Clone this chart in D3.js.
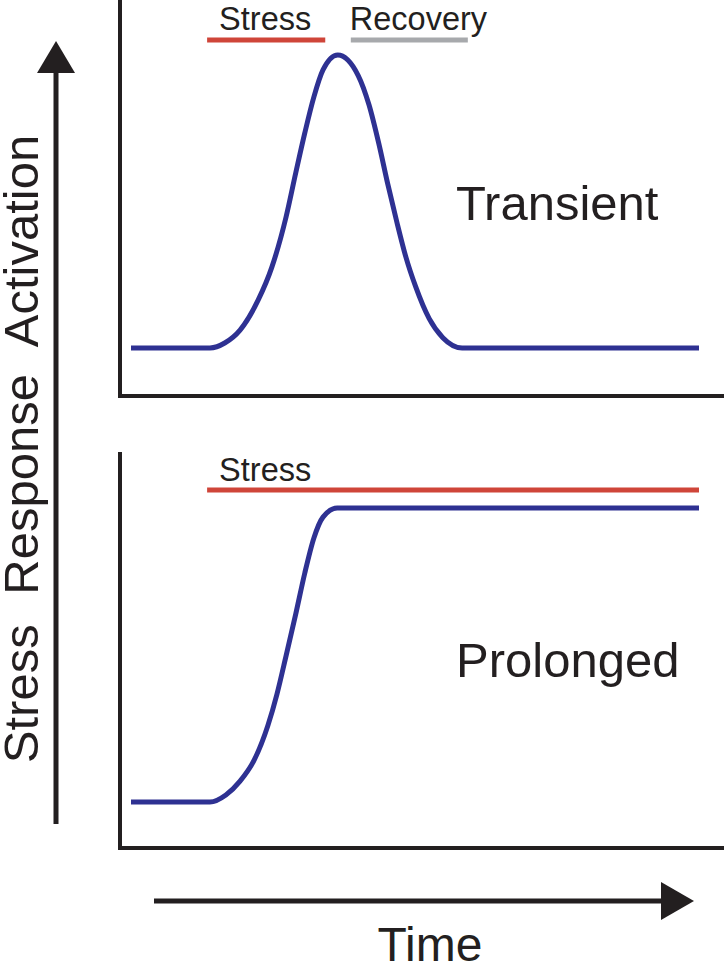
<!DOCTYPE html>
<html>
<head>
<meta charset="utf-8">
<script src="https://cdn.jsdelivr.net/npm/d3@7"></script>
<style>
  html, body { margin: 0; padding: 0; background: #fff; }
  svg { display: block; }
  text { font-family: "Liberation Sans", Arial, Helvetica, sans-serif; fill: #231f20; }
</style>
</head>
<body>
<svg id="chart" width="724" height="963"></svg>
<script>
// ---- data ----
const transientTime  = [0, 13.9, 16.5, 19.2, 22.4, 24.8, 27.3, 29.0, 30.6, 32.2, 33.8, 36.4, 40.0, 41.9, 43.6, 45.2, 46.8, 48.4, 50.1, 52.5, 54.9, 58.3, 100];
const transientLevel = [0, 0, 0.017, 0.061, 0.164, 0.276, 0.447, 0.597, 0.734, 0.857, 0.949, 1.0, 0.93, 0.83, 0.70, 0.56, 0.43, 0.31, 0.21, 0.10, 0.035, 0, 0];

const prolongedTime  = [0, 13.9, 16.7, 19.2, 21.7, 24.1, 25.7, 27.3, 29.0, 30.6, 32.2, 33.8, 36.3, 100];
const prolongedLevel = [0, 0, 0.024, 0.071, 0.143, 0.260, 0.367, 0.497, 0.639, 0.779, 0.898, 0.969, 1, 1];

const transientPhases = ["Stress", "Recovery"];
const transientPhaseStart = [13.4, 38.7];
const transientPhaseEnd   = [34.2, 59.3];
const prolongedPhases = ["Stress"];
const prolongedPhaseStart = [13.4];
const prolongedPhaseEnd   = [100];

const panelTitles = ["Transient", "Prolonged"];
const yAxisLabel = "Stress Response Activation";
const xAxisLabel = "Time";

// ---- styles ----
const ink = "#231f20";
const blue = "#2e3192";
const phaseColors = { "Stress": "#cf4539", "Recovery": "#a7a9ac" };

const svg = d3.select("#chart");

const x = d3.scaleLinear().domain([0, 100]).range([131, 699]);

const panels = [
  { time: transientTime, level: transientLevel, y: d3.scaleLinear().domain([0, 1]).range([348, 55]),
    axisTop: 0, axisBottom: 396, phases: transientPhases, ps: transientPhaseStart, pe: transientPhaseEnd,
    phaseY: 40, labelY: 30, title: panelTitles[0], titleY: 220 },
  { time: prolongedTime, level: prolongedLevel, y: d3.scaleLinear().domain([0, 1]).range([802, 508]),
    axisTop: 452, axisBottom: 848, phases: prolongedPhases, ps: prolongedPhaseStart, pe: prolongedPhaseEnd,
    phaseY: 490, labelY: 481, title: panelTitles[1], titleY: 677 }
];

panels.forEach(p => {
  const g = svg.append("g");
  // axes (L shape)
  g.append("path")
    .attr("d", `M120,${p.axisTop} L120,${p.axisBottom} L724,${p.axisBottom}`)
    .attr("fill", "none").attr("stroke", ink).attr("stroke-width", 4);

  // phase bars
  p.phases.forEach((name, i) => {
    g.append("line")
      .attr("x1", x(p.ps[i])).attr("x2", x(p.pe[i]))
      .attr("y1", p.phaseY).attr("y2", p.phaseY)
      .attr("stroke", phaseColors[name]).attr("stroke-width", 5);
    g.append("text")
      .attr("x", x(p.ps[i]) + (name === "Stress" ? 12 : -1))
      .attr("y", p.labelY)
      .attr("font-size", 32.5)
      .text(name);
  });

  // curve
  const pts = p.time.map((t, i) => [t, p.level[i]]);
  g.append("path")
    .datum(pts)
    .attr("fill", "none")
    .attr("stroke", blue)
    .attr("stroke-width", 5)
    .attr("stroke-linejoin", "round")
    .attr("d", d3.line().x(d => x(d[0])).y(d => p.y(d[1])).curve(d3.curveMonotoneX));

  // title
  g.append("text")
    .attr("x", 456).attr("y", p.titleY)
    .attr("font-size", 49)
    .text(p.title);
});

// vertical arrow
svg.append("line").attr("x1", 56).attr("x2", 56).attr("y1", 824).attr("y2", 70)
  .attr("stroke", ink).attr("stroke-width", 5);
svg.append("path").attr("d", "M56,41 L37,73 L75,73 Z").attr("fill", ink);

// horizontal arrow
svg.append("line").attr("x1", 154).attr("x2", 664).attr("y1", 901).attr("y2", 901)
  .attr("stroke", ink).attr("stroke-width", 5);
svg.append("path").attr("d", "M694,901 L661,882 L661,920 Z").attr("fill", ink);

// axis labels
svg.append("text")
  .attr("transform", "translate(38,449) rotate(-90)")
  .attr("text-anchor", "middle")
  .attr("font-size", 49)
  .style("word-spacing", "16px")
  .text(yAxisLabel);

svg.append("text")
  .attr("x", 430).attr("y", 961)
  .attr("text-anchor", "middle")
  .attr("font-size", 48)
  .text(xAxisLabel);
</script>
</body>
</html>
